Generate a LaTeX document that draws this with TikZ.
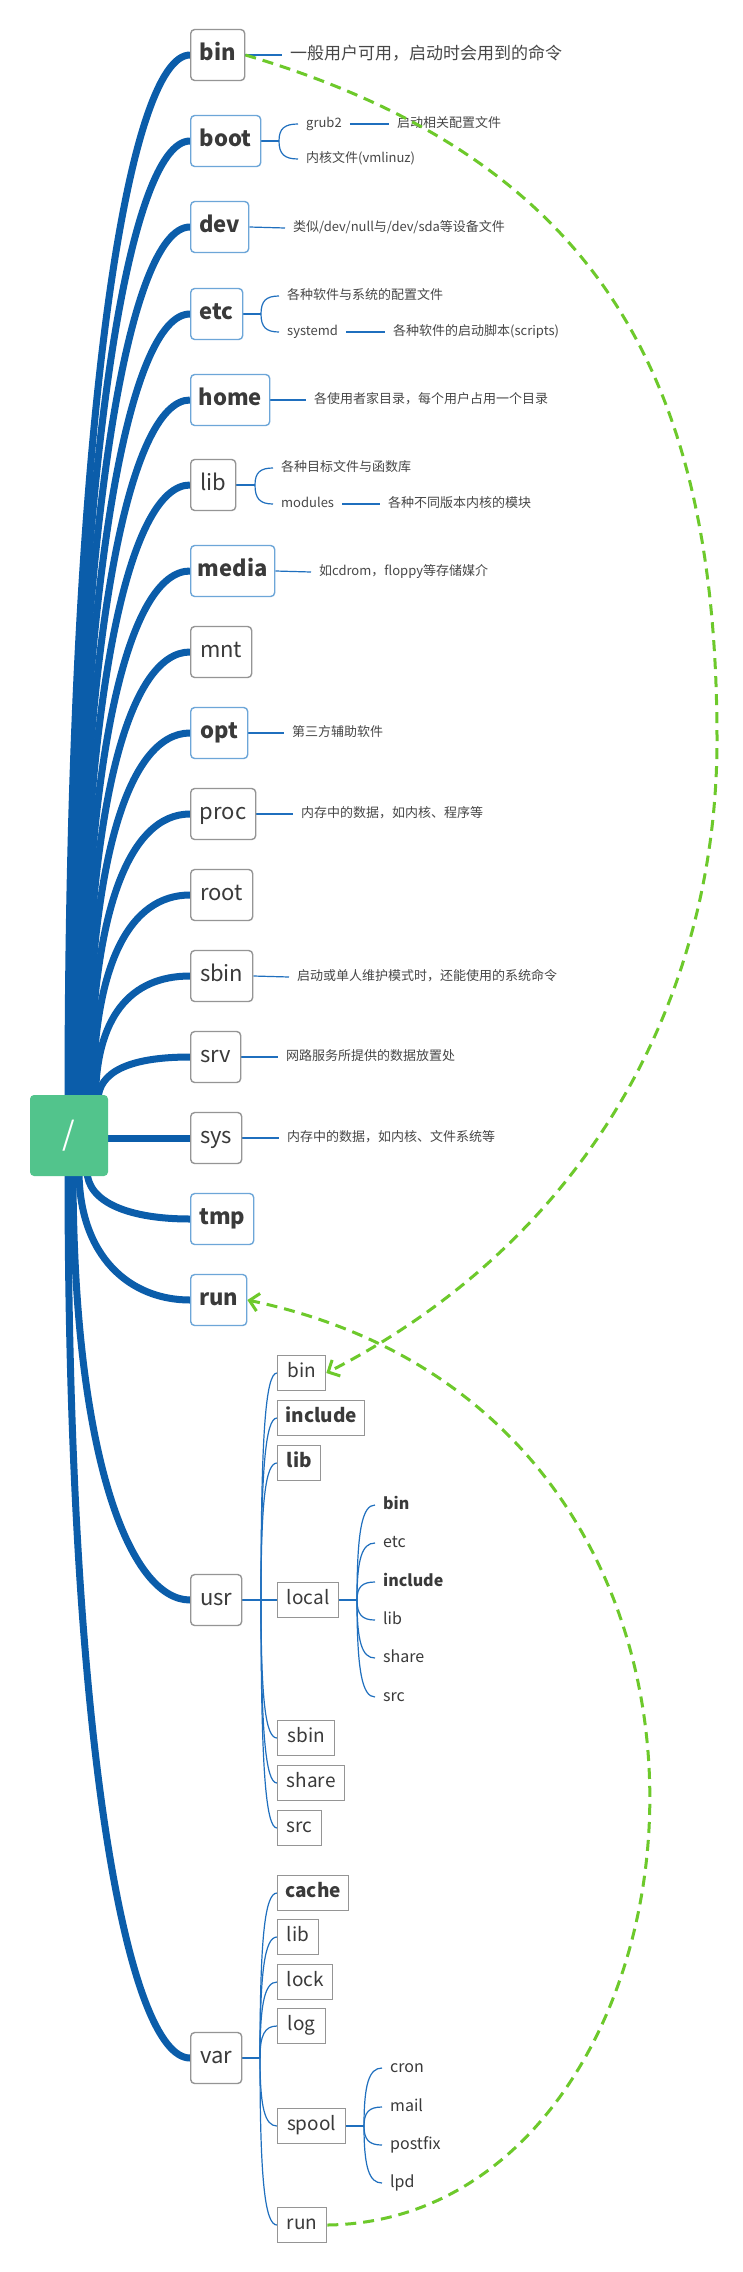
\documentclass[tikz,border=0pt]{standalone}
\usepackage{fontspec}
\setmainfont{Noto Sans CJK SC}
\usetikzlibrary{calc,arrows.meta}
\definecolor{trunkblue}{HTML}{0B5DAA}
\definecolor{twigblue}{HTML}{1F6FBE}
\definecolor{boxblue}{HTML}{6DA6D8}
\definecolor{boxgray}{HTML}{959595}
\definecolor{rootgreen}{HTML}{52C48C}
\definecolor{linkgreen}{HTML}{6DC92B}
\definecolor{txt}{HTML}{3A3A3A}
\definecolor{dtxt}{HTML}{474747}
\pgfdeclarelayer{bg}
\pgfdeclarelayer{paper}
\pgfsetlayers{paper,bg,main}
\tikzset{
  topbox/.style={draw=boxgray, line width=1.4pt, rounded corners=4pt, fill=white, anchor=west,
    minimum height=51pt, inner sep=0pt, text=txt, text height=15pt, text depth=4pt,
    font=\fontsize{22}{24}\selectfont},
  topb/.style={topbox, draw=boxblue, font=\fontsize{22}{24}\selectfont\bfseries},
  topg/.style={topbox},
  topgb/.style={topbox, font=\fontsize{22}{24}\selectfont\bfseries},
  subbox/.style={draw=boxgray, line width=1.3pt, fill=white, anchor=west, minimum height=35pt,
    inner sep=0pt, text=txt, text height=13pt, text depth=4pt, font=\fontsize{19}{21}\selectfont},
  subbold/.style={subbox, font=\fontsize{19}{21}\selectfont\bfseries},
  leaf/.style={anchor=west, inner xsep=8pt, inner ysep=0pt, text=txt, text height=11pt, text depth=3pt,
    font=\fontsize{16}{18}\selectfont},
  leafb/.style={leaf, font=\fontsize{16}{18}\selectfont\bfseries},
  desc/.style={anchor=west, inner xsep=8pt, inner ysep=0pt, text=dtxt, text height=10pt, text depth=3pt,
    font=\fontsize{13}{15}\selectfont},
  rootbox/.style={fill=rootgreen, rounded corners=4pt, minimum width=78pt, minimum height=81pt,
    text=white, font=\fontsize{32}{34}\selectfont},
  trunk/.style={draw=trunkblue, line width=7pt},
  twig/.style={draw=twigblue, line width=1.2pt},
  stem/.style={draw=twigblue, line width=2pt},
  link/.style={draw=linkgreen, line width=3pt, dash pattern=on 11pt off 7pt,
    -{Straight Barb[length=9pt,width=18pt]}},
}
\begin{document}
\begin{tikzpicture}[x=1pt,y=-1pt]
\useasboundingbox (0,0) rectangle (743,2272);
\begin{pgfonlayer}{paper}
\fill[white] (0,0) rectangle (743,2272);
\end{pgfonlayer}

% root
\node[rootbox] (root) at (69,1135.5) {/};

% top level
\node[topgb, minimum width=54pt] (tBin) at (190,55) {bin};
\node[topb, minimum width=70pt] (tBoot) at (190,141) {boot};
\node[topb, minimum width=58pt] (tDev) at (190,227) {dev};
\node[topb, minimum width=52pt] (tEtc) at (190,314) {etc};
\node[topb, minimum width=79pt] (tHome) at (190,400) {home};
\node[topg, minimum width=45pt] (tLib) at (190,485) {lib};
\node[topb, minimum width=84pt] (tMedia) at (190,571) {media};
\node[topg, minimum width=61pt] (tMnt) at (190,652) {mnt};
\node[topb, minimum width=57pt] (tOpt) at (190,733) {opt};
\node[topg, minimum width=65pt] (tProc) at (190,814) {proc};
\node[topg, minimum width=62pt] (tRoot) at (190,895) {root};
\node[topg, minimum width=62pt] (tSbin) at (190,976) {sbin};
\node[topg, minimum width=50pt] (tSrv) at (190,1057) {srv};
\node[topg, minimum width=51pt] (tSys) at (190,1138) {sys};
\node[topb, minimum width=63pt] (tTmp) at (190,1219) {tmp};
\node[topb, minimum width=56pt] (tRun) at (190,1300) {run};
\node[topg, minimum width=51pt] (tUsr) at (190,1600) {usr};
\node[topg, minimum width=51pt] (tVar) at (190,2058) {var};

% usr children
\node[subbox, minimum width=48pt] (uBin) at (277,1373) {bin};
\node[subbold, minimum width=87pt] (uInclude) at (277,1418) {include};
\node[subbold, minimum width=43pt] (uLib) at (277,1463) {lib};
\node[subbox, minimum width=61pt] (uLocal) at (277,1600) {local};
\node[subbox, minimum width=57pt] (uSbin) at (277,1738) {sbin};
\node[subbox, minimum width=67pt] (uShare) at (277,1783) {share};
\node[subbox, minimum width=44pt] (uSrc) at (277,1828) {src};

% local children
\node[leafb] (lBin) at (375,1505) {bin};
\node[leaf] (lEtc) at (375,1543) {etc};
\node[leafb] (lInclude) at (375,1582) {include};
\node[leaf] (lLib) at (375,1620) {lib};
\node[leaf] (lShare) at (375,1658) {share};
\node[leaf] (lSrc) at (375,1697) {src};

% var children
\node[subbold, minimum width=71pt] (vCache) at (277,1893) {cache};
\node[subbox, minimum width=41pt] (vLib) at (277,1937) {lib};
\node[subbox, minimum width=55pt] (vLock) at (277,1982) {lock};
\node[subbox, minimum width=48pt] (vLog) at (277,2026) {log};
\node[subbox, minimum width=68pt] (vSpool) at (277,2126) {spool};
\node[subbox, minimum width=49pt] (vRun) at (277,2225) {run};

% spool children
\node[leaf] (sCron) at (382,2068) {cron};
\node[leaf] (sMail) at (382,2107) {mail};
\node[leaf] (sPostfix) at (382,2145) {postfix};
\node[leaf] (sLpd) at (382,2183) {lpd};

% descriptions
\node[desc, font=\fontsize{17}{19}\selectfont, text height=13pt] (dBin) at (282,55) {一般用户可用，启动时会用到的命令};
\node[desc] (dGrub) at (298,124) {grub2};
\node[desc] (dGrubTxt) at (389,124) {启动相关配置文件};
\node[desc] (dKernel) at (298,159) {内核文件(vmlinuz)};
\node[desc] (dDev) at (285,228) {类似/dev/null与/dev/sda等设备文件};
\node[desc] (dEtcA) at (279,296) {各种软件与系统的配置文件};
\node[desc] (dSystemd) at (279,332) {systemd};
\node[desc] (dSystemdTxt) at (385,332) {各种软件的启动脚本(scripts)};
\node[desc] (dHome) at (306,400) {各使用者家目录，每个用户占用一个目录};
\node[desc] (dLibA) at (273,468) {各种目标文件与函数库};
\node[desc] (dModules) at (273,504) {modules};
\node[desc] (dModulesTxt) at (380,504) {各种不同版本内核的模块};
\node[desc] (dMedia) at (311,572) {如cdrom，floppy等存储媒介};
\node[desc] (dOpt) at (284,733) {第三方辅助软件};
\node[desc] (dProc) at (293,814) {内存中的数据，如内核、程序等};
\node[desc] (dSbin) at (289,977) {启动或单人维护模式时，还能使用的系统命令};
\node[desc] (dSrv) at (278,1057) {网路服务所提供的数据放置处};
\node[desc] (dSys) at (279,1138) {内存中的数据，如内核、文件系统等};

% junctions
\coordinate (jBoot) at (279,141);
\coordinate (jEtc) at (261,314);
\coordinate (jLib) at (255,485);
\coordinate (jUsr) at (261,1600);
\coordinate (jLocal) at (357,1600);
\coordinate (jVar) at (260,2058);
\coordinate (jSpool) at (364,2126);

\begin{pgfonlayer}{bg}
  % trunk curves upward
  \foreach \n/\dx in {tBin/-1,tBoot/1.5,tDev/4,tEtc/6.5,tHome/9,tLib/11.5,tMedia/14,tMnt/16.5,tOpt/19,tProc/21.5,tRoot/24,tSbin/26.5,tSrv/29}{
    \coordinate (s-\n) at ([xshift=\dx pt, yshift=-6pt]root.north);
    \draw[trunk] (s-\n) .. controls ($(s-\n)!0.667!(s-\n |- \n.west)$) and ($(\n.west)+(-60,0)$) .. (\n.west);
  }
  % trunk curves downward
  \foreach \n/\dx in {tTmp/18,tRun/10,tUsr/4,tVar/-1}{
    \coordinate (s-\n) at ([xshift=\dx pt, yshift=6pt]root.south);
    \draw[trunk] (s-\n) .. controls ($(s-\n)!0.667!(s-\n |- \n.west)$) and ($(\n.west)+(-60,0)$) .. (\n.west);
  }
  \draw[trunk] (root.east |- tSys.west) -- (tSys.west);

  % simple description links
  \foreach \a/\b in {tBin/dBin,tDev/dDev,tHome/dHome,tMedia/dMedia,tOpt/dOpt,tProc/dProc,tSbin/dSbin,tSrv/dSrv,tSys/dSys,dGrub/dGrubTxt,dSystemd/dSystemdTxt,dModules/dModulesTxt}{
    \draw[twig] (\a.east) -- (\b.west);
  }
  % stems
  \draw[stem] (tBoot.east) -- (jBoot);
  \draw[stem] (tEtc.east) -- (jEtc);
  \draw[stem] (tLib.east) -- (jLib);
  \draw[stem] (tUsr.east) -- (jUsr) -- (uLocal.west);
  \draw[stem] (uLocal.east) -- (jLocal);
  \draw[stem] (tVar.east) -- (jVar);
  \draw[stem] (vSpool.east) -- (jSpool);
  % curved branches (junction -> child)
  \foreach \j/\c in {jBoot/dGrub,jBoot/dKernel,jEtc/dEtcA,jEtc/dSystemd,jLib/dLibA,jLib/dModules,
      jUsr/uBin,jUsr/uInclude,jUsr/uLib,jUsr/uSbin,jUsr/uShare,jUsr/uSrc,
      jLocal/lBin,jLocal/lEtc,jLocal/lInclude,jLocal/lLib,jLocal/lShare,jLocal/lSrc,
      jVar/vCache,jVar/vLib,jVar/vLock,jVar/vLog,jVar/vSpool,jVar/vRun,
      jSpool/sCron,jSpool/sMail,jSpool/sPostfix,jSpool/sLpd}{
    \draw[twig] (\j) .. controls ($(\j)!0.72!(\j |- \c.west)$) and ($(\c.west)!0.72!(\j |- \c.west)$) .. (\c.west);
  }
\end{pgfonlayer}

% green relationship links
\draw[link] (tBin.east) .. controls (600,160) and (717,380) .. (717,740)
  .. controls (717,1000) and (586,1240) .. (uBin.east);
\draw[link] (vRun.east) .. controls (720,2220) and (820,1420) .. (tRun.east);

\end{tikzpicture}
\end{document}
